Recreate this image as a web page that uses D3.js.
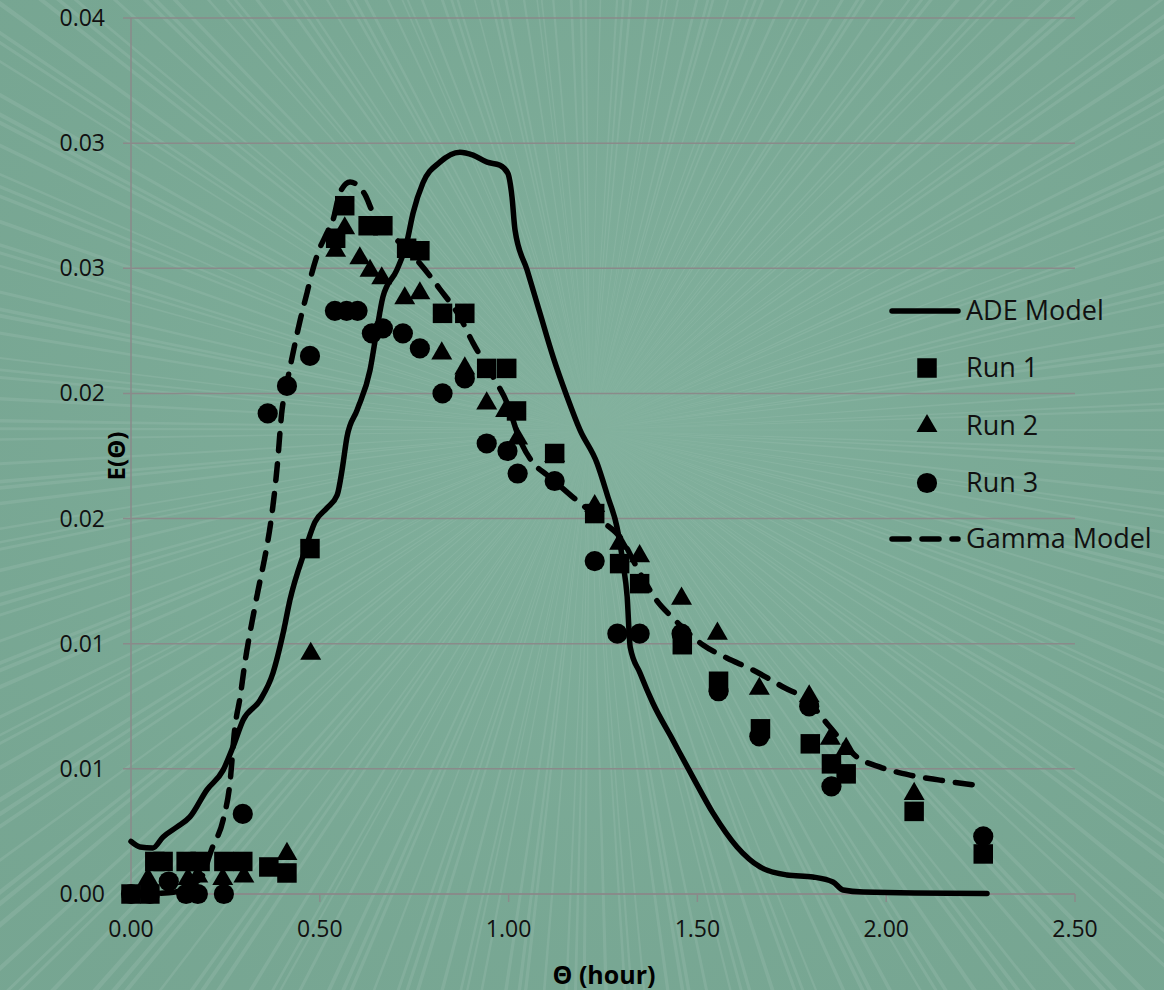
<!DOCTYPE html>
<html>
<head>
<meta charset="utf-8">
<script src="https://cdn.jsdelivr.net/npm/d3@7"></script>
<style>
  html, body { margin: 0; padding: 0; background: #79a894; }
  svg { display: block; font-family: "Open Sans", "Noto Sans", sans-serif; }
</style>
</head>
<body>
<svg id="chart" width="1164" height="990"></svg>
<script>
// axis ticks as printed
const yTicks = [0, 0.005, 0.01, 0.015, 0.02, 0.025, 0.03, 0.035];
const yTickLabels = ["0.00", "0.01", "0.01", "0.02", "0.02", "0.03", "0.03", "0.04"];
const xTicks = [0, 0.5, 1, 1.5, 2, 2.5];
const xTickLabels = ["0.00", "0.50", "1.00", "1.50", "2.00", "2.50"];

// ADE Model (solid)
const adeTheta = [0.00, 0.024, 0.058, 0.085, 0.122, 0.156, 0.201, 0.244, 0.270, 0.297, 0.342, 0.376, 0.403, 0.421,
  0.461, 0.487, 0.519, 0.546, 0.559, 0.572, 0.599, 0.633, 0.651, 0.667, 0.704, 0.730, 0.747, 0.773, 0.818, 0.871,
  0.906, 0.943, 0.977, 0.998, 1.009, 1.017, 1.049, 1.083, 1.118, 1.155, 1.189, 1.234, 1.263, 1.287, 1.303, 1.314,
  1.322, 1.348, 1.382, 1.435, 1.488, 1.541, 1.605, 1.666, 1.737, 1.806, 1.859, 1.886, 1.939, 2.267];
const adeE = [0.0021, 0.00188, 0.00184, 0.00228, 0.00268, 0.00308, 0.00416, 0.00495, 0.00587, 0.00695, 0.00775, 0.00883, 0.01043, 0.01175,
  0.01374, 0.01486, 0.01542, 0.01594, 0.01694, 0.01826, 0.01934, 0.02093, 0.02253, 0.02385, 0.02493, 0.02601, 0.02721, 0.02841, 0.02924, 0.02964,
  0.02952, 0.02924, 0.02912, 0.0288, 0.02785, 0.02653, 0.02493, 0.02321, 0.02145, 0.01986, 0.01854, 0.01722, 0.01586, 0.01466, 0.01322, 0.01187,
  0.00987, 0.00883, 0.00763, 0.00615, 0.00467, 0.00324, 0.00188, 0.00108, 0.00076, 0.00068, 0.00048, 0.00016, 0.00008, 0.00002];

// Gamma Model (dashed)
const gammaTheta = [0.00, 0.10, 0.183, 0.215, 0.244, 0.262, 0.275, 0.289, 0.302, 0.315, 0.328, 0.387, 0.400, 0.413, 0.429,
  0.448, 0.466, 0.479, 0.495, 0.519, 0.535, 0.553, 0.580, 0.620, 0.641, 0.678, 0.712, 0.757, 0.818, 0.871, 0.906, 0.959,
  0.996, 1.030, 1.065, 1.102, 1.170, 1.250, 1.295, 1.348, 1.393, 1.435, 1.515, 1.578, 1.647, 1.727, 1.790, 1.851, 1.923,
  1.984, 2.063, 2.142, 2.256];
const gammaE = [0.0, 0.00005, 0.0006, 0.00184, 0.00296, 0.00443, 0.00663, 0.00787, 0.00927, 0.01043, 0.01147, 0.01706, 0.01934, 0.02042, 0.02161,
  0.02293, 0.02401, 0.02481, 0.02561, 0.02641, 0.02693, 0.02801, 0.02845, 0.02793, 0.02721, 0.02653, 0.02601, 0.02533, 0.02417, 0.02305, 0.02201, 0.02066,
  0.01962, 0.01814, 0.01722, 0.01674, 0.01586, 0.01486, 0.01426, 0.01282, 0.01171, 0.01103, 0.00995, 0.00943, 0.00895, 0.00827, 0.00775, 0.00667, 0.00547,
  0.00507, 0.00475, 0.00455, 0.00431];

// Run 1 (squares)
const run1Theta = [0.00, 0.05, 0.063, 0.085, 0.146, 0.183, 0.246, 0.296, 0.365, 0.413, 0.474, 0.542, 0.566, 0.628, 0.667,
  0.730, 0.765, 0.825, 0.884, 0.942, 0.995, 1.021, 1.122, 1.228, 1.294, 1.347, 1.460, 1.556, 1.667, 1.799, 1.855, 1.894,
  2.074, 2.257];
const run1E = [0.0, 0.0, 0.0013, 0.0013, 0.0013, 0.0013, 0.0013, 0.0013, 0.00108, 0.00084, 0.0138, 0.0262, 0.0275, 0.0267, 0.0267,
  0.0258, 0.0257, 0.0232, 0.0232, 0.021, 0.021, 0.0193, 0.0176, 0.0152, 0.0132, 0.0124, 0.00996, 0.0085, 0.0066, 0.006, 0.0052, 0.0048,
  0.0033, 0.0016];

// Run 2 (triangles)
const run2Theta = [0.045, 0.151, 0.177, 0.243, 0.299, 0.413, 0.476, 0.542, 0.566, 0.606, 0.633, 0.664, 0.725, 0.765, 0.823,
  0.884, 0.942, 0.992, 1.024, 1.122, 1.228, 1.294, 1.347, 1.458, 1.553, 1.664, 1.796, 1.852, 1.894, 2.074];
const run2E = [0.0006, 0.0006, 0.0007, 0.0006, 0.0007, 0.0016, 0.0096, 0.0257, 0.0266, 0.0254, 0.0249, 0.0246, 0.0238, 0.024, 0.0216,
  0.021, 0.0196, 0.0193, 0.0182, 0.0175, 0.0155, 0.014, 0.0135, 0.0118, 0.0104, 0.0082, 0.0079, 0.0062, 0.0058, 0.004];

// Run 3 (circles)
const run3Theta = [0.00, 0.05, 0.10, 0.146, 0.177, 0.246, 0.296, 0.362, 0.413, 0.474, 0.540, 0.571, 0.600, 0.638, 0.667,
  0.720, 0.765, 0.825, 0.884, 0.942, 0.997, 1.024, 1.122, 1.228, 1.288, 1.347, 1.458, 1.556, 1.664, 1.796, 1.855, 2.257];
const run3E = [0.0, 0.0, 0.0005, 0.0, 0.0, 0.0, 0.0032, 0.0192, 0.0203, 0.0215, 0.0233, 0.0233, 0.0233, 0.0224, 0.0226,
  0.0224, 0.0218, 0.02, 0.0206, 0.018, 0.0177, 0.0168, 0.0165, 0.0133, 0.0104, 0.0104, 0.0104, 0.0081, 0.0063, 0.0075, 0.0043, 0.0023];

const legendItems = ["ADE Model", "Run 1", "Run 2", "Run 3", "Gamma Model"];

const W = 1164, H = 990;
const svg = d3.select("#chart");

// sunburst background
const bg = svg.append("g");
bg.append("rect").attr("width", W).attr("height", H).attr("fill", "#78a793");
const cx = 590, cy = 430, R = 1400;
const rays = d3.range(0, 360, 1.5).map((a, i) => a + 0.6 * Math.sin(i * 1.7));
bg.selectAll("path.ray")
  .data(rays)
  .join("path")
  .attr("class", "ray")
  .attr("d", (a) => {
    const w = 0.1 + 0.08 * Math.abs(Math.sin(a * 0.37));
    const a0 = (a - w) * Math.PI / 180, a1 = (a + w) * Math.PI / 180;
    return `M${cx},${cy}L${cx + R * Math.cos(a0)},${cy + R * Math.sin(a0)}L${cx + R * Math.cos(a1)},${cy + R * Math.sin(a1)}Z`;
  })
  .attr("fill", "#ffffff")
  .attr("opacity", 0.12);
const glow = svg.append("defs").append("radialGradient").attr("id", "glow")
  .attr("cx", cx / W).attr("cy", cy / H).attr("r", 0.7);
glow.append("stop").attr("offset", "0%").attr("stop-color", "#8cbba8").attr("stop-opacity", 0.5);
glow.append("stop").attr("offset", "100%").attr("stop-color", "#72a18e").attr("stop-opacity", 0.25);
bg.append("rect").attr("width", W).attr("height", H).attr("fill", "url(#glow)");

const x = d3.scaleLinear().domain([0, 2.5]).range([131, 1075]);
const y = d3.scaleLinear().domain([0, 0.035]).range([894, 18]);

// gridlines
svg.append("g")
  .selectAll("line")
  .data(yTicks)
  .join("line")
  .attr("x1", 123).attr("x2", x(2.5))
  .attr("y1", (d) => y(d)).attr("y2", (d) => y(d))
  .attr("stroke", "#8a8a8a").attr("stroke-width", 1.5);

// axes lines
svg.append("line").attr("x1", x(0)).attr("x2", x(0)).attr("y1", y(0.035)).attr("y2", y(0))
  .attr("stroke", "#8a8a8a").attr("stroke-width", 1.5);
svg.append("line").attr("x1", x(0)).attr("x2", x(2.5)).attr("y1", y(0)).attr("y2", y(0))
  .attr("stroke", "#8a8a8a").attr("stroke-width", 1.5);
svg.append("g").selectAll("line")
  .data(xTicks)
  .join("line")
  .attr("x1", (d) => x(d)).attr("x2", (d) => x(d))
  .attr("y1", y(0)).attr("y2", y(0) + 8)
  .attr("stroke", "#8a8a8a").attr("stroke-width", 1.5);

// tick labels
svg.append("g").selectAll("text")
  .data(yTicks)
  .join("text")
  .attr("x", 105).attr("y", (d) => y(d))
  .attr("dy", "0.35em")
  .attr("text-anchor", "end")
  .attr("font-size", 23)
  .attr("fill", "#111")
  .text((d, i) => yTickLabels[i]);
svg.append("g").selectAll("text")
  .data(xTicks)
  .join("text")
  .attr("x", (d) => x(d)).attr("y", 929)
  .attr("dy", "0.35em")
  .attr("text-anchor", "middle")
  .attr("font-size", 23)
  .attr("fill", "#111")
  .text((d, i) => xTickLabels[i]);

// axis titles
svg.append("text")
  .attr("transform", "translate(117,456) rotate(-90)")
  .attr("dy", "0.35em")
  .attr("text-anchor", "middle")
  .attr("font-size", 24).attr("font-weight", "bold")
  .text("E(Θ)");
svg.append("text")
  .attr("x", 604).attr("y", 975)
  .attr("dy", "0.35em")
  .attr("text-anchor", "middle")
  .attr("font-size", 25).attr("font-weight", "bold")
  .text("Θ (hour)");

const zip = (xs, ys) => xs.map((v, i) => [v, ys[i]]);
const line = d3.line().x((d) => x(d[0])).y((d) => y(d[1])).curve(d3.curveMonotoneX);

svg.append("path")
  .datum(zip(adeTheta, adeE))
  .attr("d", line)
  .attr("fill", "none").attr("stroke", "#000").attr("stroke-width", 5.5)
  .attr("stroke-linejoin", "round").attr("stroke-linecap", "round");

const sq = d3.symbol().type(d3.symbolSquare).size(380);
const tri = d3.symbol().type(d3.symbolTriangle).size(190);
const circ = d3.symbol().type(d3.symbolCircle).size(320);

function drawRun(data, sym) {
  svg.append("g").selectAll("path")
    .data(data)
    .join("path")
    .attr("transform", (d) => `translate(${x(d[0])},${y(d[1])})`)
    .attr("d", sym)
    .attr("fill", "#000");
}
drawRun(zip(run1Theta, run1E), sq);
drawRun(zip(run2Theta, run2E), tri);
drawRun(zip(run3Theta, run3E), circ);

svg.append("path")
  .datum(zip(gammaTheta, gammaE))
  .attr("d", line)
  .attr("fill", "none").attr("stroke", "#000").attr("stroke-width", 5.5)
  .attr("stroke-dasharray", "17,13")
  .attr("stroke-linecap", "round");

// legend
const lg = svg.append("g");
const legY = [311, 368, 426, 483, 539];
legendItems.forEach((name, i) => {
  const ly = legY[i];
  if (i === 0 || i === 4) {
    lg.append("line").attr("x1", 892).attr("x2", 958).attr("y1", ly).attr("y2", ly)
      .attr("stroke", "#000").attr("stroke-width", 5.5).attr("stroke-linecap", "round")
      .attr("stroke-dasharray", i === 4 ? "17,13" : null);
  } else {
    const sym = [null, sq, tri, circ][i];
    lg.append("path").attr("transform", `translate(927,${ly})`).attr("d", sym).attr("fill", "#000");
  }
  lg.append("text").attr("x", 966).attr("y", ly).attr("dy", "0.35em")
    .attr("font-size", 27).attr("fill", "#111").text(name);
});
</script>
</body>
</html>
